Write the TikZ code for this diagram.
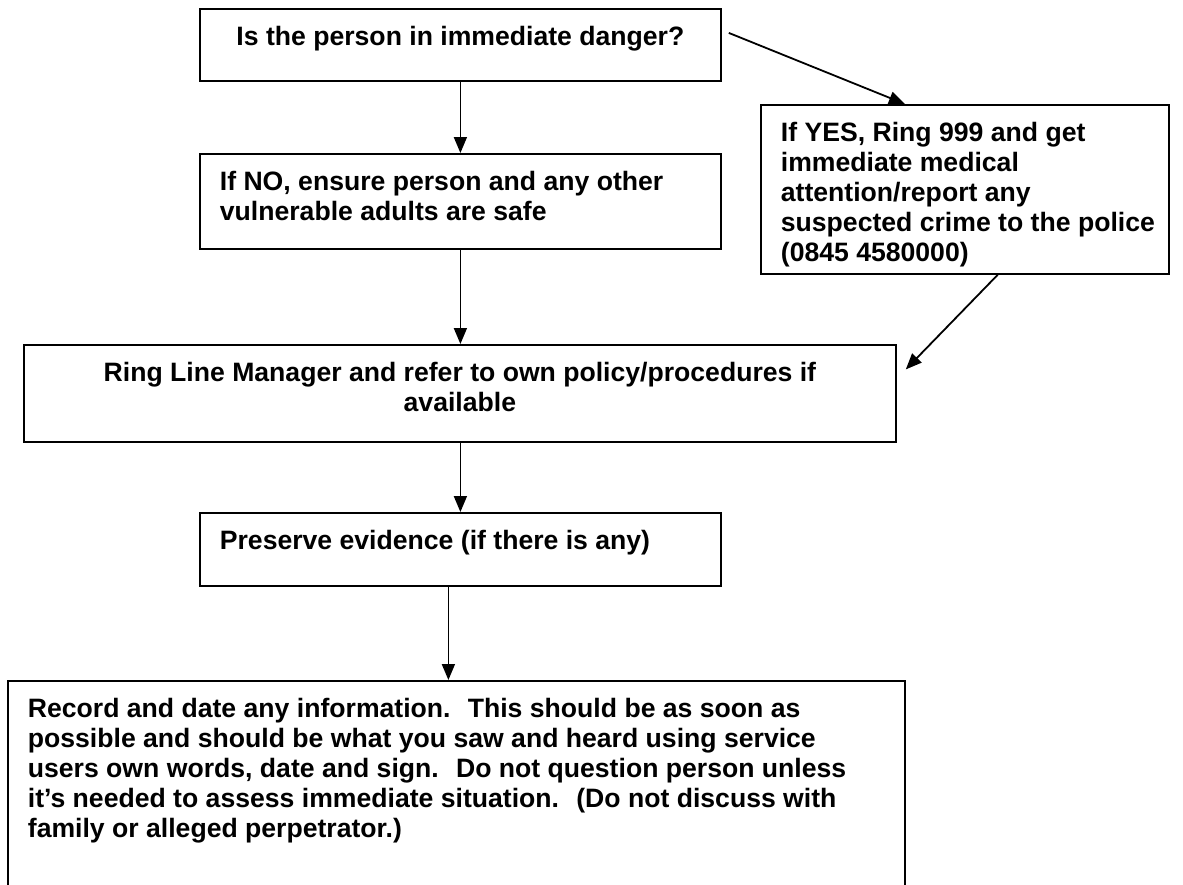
\documentclass[tikz,border=0pt]{standalone}
\usepackage{fontspec}
\setmainfont{Liberation Sans}
\usetikzlibrary{arrows.meta}
\newcommand{\boxtext}[3]{\parbox[t][#2][t]{#1}{#3}}

\begin{document}
\begin{tikzpicture}[x=1pt, y=-1pt, line width=1.8pt,
    box/.style={draw, anchor=north west, inner xsep=20pt, inner ysep=17pt,
      font=\fontsize{26.6}{30}\selectfont\bfseries},
    arr/.style={-{Triangle[length=16pt,width=13pt]}}]
  \useasboundingbox (0,0) rectangle (1183,884);
  \path node (danger)   at (199,8)   [box] {\boxtext{481pt}{38pt}{\centering Is the person in immediate danger?}}
        node (safe)     at (199,153) [box] {\boxtext{481pt}{61pt}{\raggedright If NO, ensure person and any other\\
                                                vulnerable adults are safe}}
        node (yes)      at (760,104) [box] {\boxtext{368pt}{135pt}{\raggedright If YES, Ring 999 and get\\
                                                immediate medical\\ attention/report any\\
                                                \mbox{suspected crime to the police}\\ (0845 4580000)}}
        node (manager)  at (23,344)  [box] {\boxtext{832pt}{63pt}{\centering Ring Line Manager and refer to own policy/procedures if\\
                                                available}}
        node (preserve) at (199,512) [box] {\boxtext{481pt}{39pt}{\raggedright Preserve evidence (if there is any)}}
        node (record)   at (7,680)   [box] {\boxtext{857pt}{181pt}{\raggedright Record and date any information.~ This should be as soon as\\
                                                possible and should be what you saw and heard using service\\
                                                users own words, date and sign.~ Do not question person unless\\
                                                it’s needed to assess immediate situation.~ (Do not discuss with\\
                                                family or alleged perpetrator.)}};
  \draw[arr] (danger.south) -- (safe.north);
  \draw[arr] ([shift={(7,-12)}]danger.east) -- ([xshift=-60]yes.north);
  \draw[arr] (safe.south) -- (safe.south |- manager.north);
  \draw[arr] (yes.-69) -- ([shift={(9,-24)}]manager.east);
  \draw[arr] (manager.south -| preserve.north) -- (preserve.north);
  \draw[arr] ([xshift=-12]preserve.south) -- ([xshift=-12]preserve.south |- record.north);
\end{tikzpicture}
\end{document}
